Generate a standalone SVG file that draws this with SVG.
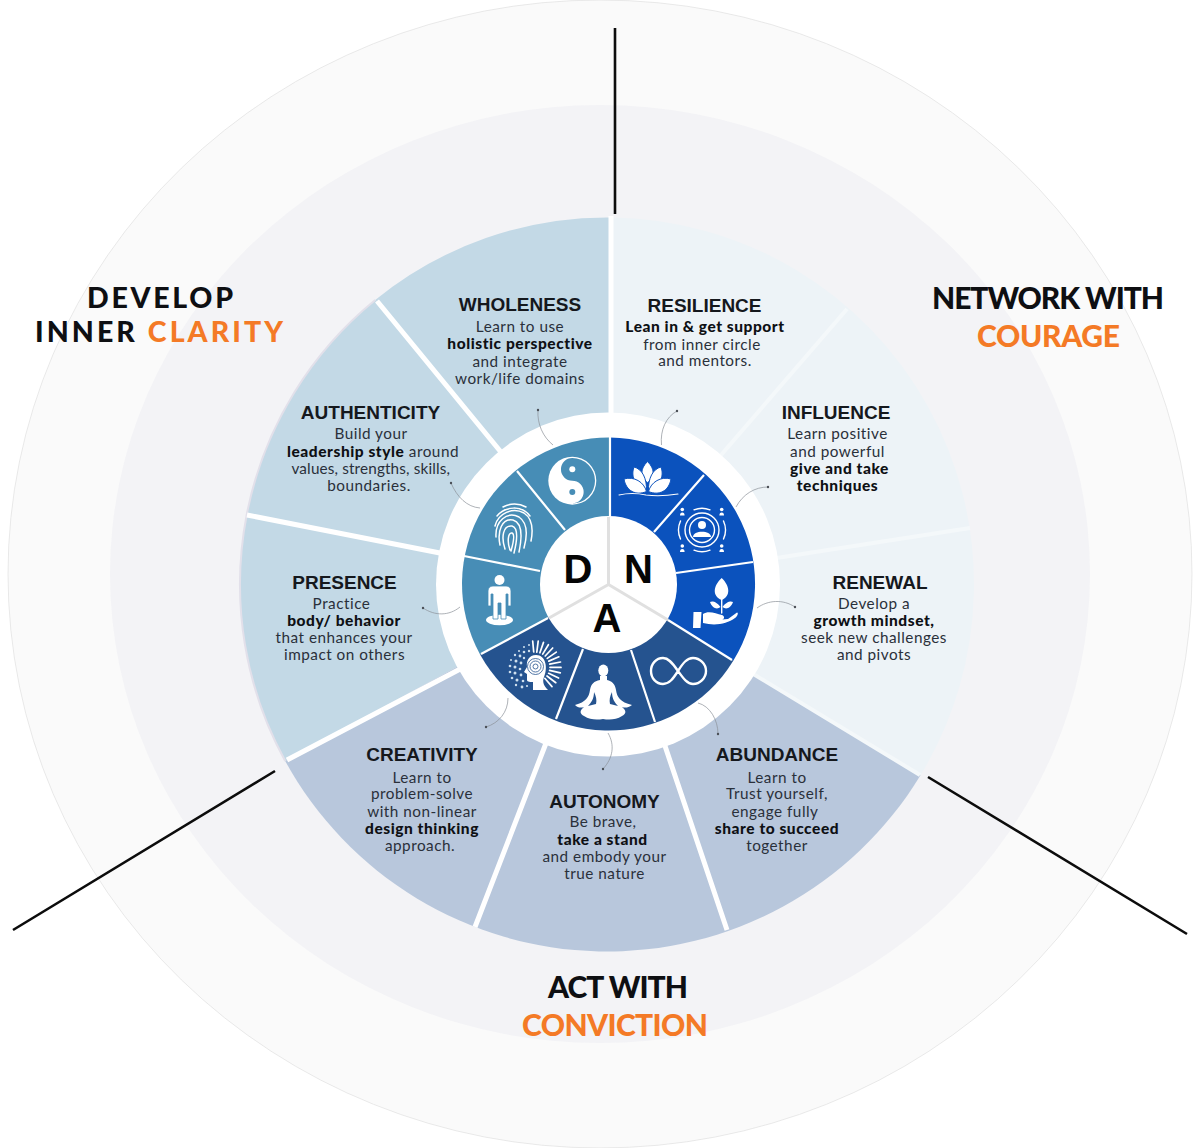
<svg xmlns="http://www.w3.org/2000/svg" width="1200" height="1148" viewBox="0 0 1200 1148">
<style>
.t{font-family:"Liberation Sans",Arial,sans-serif;font-weight:700;font-size:19px;fill:#15181d;text-anchor:middle}
.b{font-family:Lato,"Open Sans",sans-serif;font-size:15.3px;fill:#2a303a;text-anchor:middle;letter-spacing:.5px}
.s{font-weight:900;font-size:15.5px;letter-spacing:.55px;fill:#0e1014}
.h{font-family:Lato,"Open Sans",sans-serif;font-weight:900;font-size:30px;fill:#0e0f12}
.h2{font-size:28.500px}
.o{fill:#f47a26}
.sep{stroke:#fff;stroke-width:5;fill:none}
.sep2{stroke:#f4f8fa;stroke-width:4;fill:none}
.in{stroke:#fff;stroke-width:2.2;fill:none}
.hubl{stroke:#e0e0e0;stroke-width:3;fill:none}
.blk{stroke:#0c0c0c;stroke-width:2.6;fill:none}
.lead{stroke:#8b9098;stroke-width:.7;fill:none;marker-end:url(#dot)}
.ic{fill:#fff}
.icl{fill:none;stroke:#fff;stroke-linecap:round}
.hub{font-family:"Liberation Sans",Arial,sans-serif;font-weight:700;font-size:40px;fill:#050505;text-anchor:middle}
</style>
<defs><marker id="dot" markerUnits="userSpaceOnUse" markerWidth="4" markerHeight="4" refX="2" refY="2"><circle cx="2" cy="2" r="1.200" fill="#4a4f57"/></marker></defs>
<rect width="1200" height="1148" fill="#fff"/>
<g id="rings">
<ellipse cx="600" cy="574" rx="592" ry="574" fill="#fafafa" stroke="#d5d5d5" stroke-width=".5"/>
<ellipse cx="600" cy="574" rx="490" ry="469" fill="#f3f3f6"/>
</g>
<g id="dividers">
<path class="blk" d="M615 28V214M13 930L275 771M928 777L1187 934"/>
</g>
<g id="wedges">
<path d="M611 584.500V217.500A367 367 0 0 0 375.200 300L607 584.500Z" fill="#c3d9e6"/>
<path d="M607 584.500L375.200 300A367 367 0 0 0 285.200 761Z" fill="#c3d9e6"/>
<path d="M607 584.500L285.200 761A367 367 0 0 0 920.500 775.300Z" fill="#b8c7dc"/>
<path d="M607 584.500L920.500 775.300A367 367 0 0 0 611 217.500V584.500Z" fill="#edf3f7"/>
<path d="M375.200 300A367 367 0 0 0 285.200 761" fill="none" stroke="#e2e0ea" stroke-width="2"/>
<path class="sep" d="M611 216V420M377 301L505 457M247 515L445 554M287 760L464 667M475 927L548 738M727 930L663 740"/>
<path class="sep2" d="M920 775L750 672M970 528L770 559M847 309L715 462"/>
</g>
<g id="hub-ring">
<circle cx="608" cy="584.500" r="172" fill="#fff"/>
<path d="M608.500 584L610 437.500A146.500 146.500 0 0 0 480.100 654.500Z" fill="#478db6"/>
<path d="M608.500 584L480.100 654.500A146.500 146.500 0 0 0 733.300 660.800Z" fill="#25538f"/>
<path d="M608.500 584L733.300 660.800A146.500 146.500 0 0 0 610 437.500Z" fill="#0b52bd"/>
<path class="in" d="M610 437V520M517 471L565 530M464 556L540 571M481 654L548 618M556 719L583 649M655 722L631 650M732 660L668 620M753 562L676 573M704 475L654 532"/>
<circle cx="608.500" cy="584.500" r="68.500" fill="#fff"/>
<path class="hubl" d="M608.500 584.500V517M608.500 584.500L549 618M608.500 584.500L668 620"/>
</g>
<g id="node-d"><text class="hub" x="578" y="583">D</text></g>
<g id="node-n"><text class="hub" x="638.500" y="583">N</text></g>
<g id="node-a"><text class="hub" x="607" y="632">A</text></g>
<g id="wholeness"><text class="t" x="520" y="311">WHOLENESS</text>
<text class="b" x="520" y="332">Learn to use</text><text class="b s" x="520" y="349">holistic perspective</text><text class="b" x="520" y="366.500">and integrate</text><text class="b" x="520" y="383.500">work/life domains</text>
<circle class="ic" cx="572.300" cy="480.700" r="24"/>
<path d="M572.300 458A22.700 22.700 0 0 1 572.300 503.400A11.350 11.350 0 0 0 572.300 480.700A11.350 11.350 0 0 1 572.300 458Z" fill="#478db6"/>
<circle class="ic" cx="572.300" cy="469.300" r="3"/><circle cx="572.300" cy="492" r="3" fill="#478db6"/>
</g>
<g id="resilience"><text class="t" x="704.500" y="311.500">RESILIENCE</text>
<text class="b s" x="705" y="332">Lean in &amp; get support</text><text class="b" x="702" y="349.500">from inner circle</text><text class="b" x="705" y="366">and mentors.</text>
<g class="ic" stroke="#0b52bd" stroke-width="1">
<path d="M647.500 461.500C655 469 655 476 647.500 483C640 476 640 469 647.500 461.500Z"/>
<path d="M634 467C642 469 647 478 646.500 491C637 488 630 478 634 467Z"/>
<path d="M661 467C653 469 648 478 648.500 491C658 488 665 478 661 467Z"/>
<path d="M624 479C634 476 644 482 646.500 491.500C636 496 626 491 624 479Z"/>
<path d="M671 479C661 476 651 482 648.500 491.500C659 496 669 491 671 479Z"/>
</g>
<path class="icl" stroke-width="1.100" d="M619 495Q632 492 646 495Q660 497 678 494"/>
</g>
<g id="influence"><text class="t" x="836" y="419">INFLUENCE</text>
<text class="b" x="837.500" y="439">Learn positive</text><text class="b" x="837.500" y="456.500">and powerful</text><text class="b s" x="839.500" y="474">give and take</text><text class="b s" x="837.500" y="491">techniques</text>
<circle class="icl" stroke-width="1.400" cx="702" cy="530" r="12.500"/><circle class="icl" stroke-width="1.400" cx="702" cy="530" r="17"/>
<path class="icl" stroke-width="1.400" d="M680.500 521A21.700 21.700 0 0 0 680.500 539M723.500 521A21.700 21.700 0 0 1 723.500 539M694 509.800A21.700 21.700 0 0 1 710 509.800M694 550.200A21.700 21.700 0 0 0 710 550.200"/>
<circle class="ic" cx="702" cy="525" r="4"/><path class="ic" d="M693 537C693 530 711 530 711 537Z"/>
<g class="ic"><circle cx="682.300" cy="509.500" r="1.800"/><circle cx="721.700" cy="509.500" r="1.800"/><circle cx="682.300" cy="546" r="1.800"/><circle cx="721.700" cy="546" r="1.800"/>
<path d="M680 515.500a2.300 3 0 0 1 4.600 0ZM719.400 515.500a2.300 3 0 0 1 4.600 0ZM680 552a2.300 3 0 0 1 4.600 0ZM719.400 552a2.300 3 0 0 1 4.600 0Z"/></g>
</g>
<g id="renewal"><text class="t" x="880" y="589">RENEWAL</text>
<text class="b" x="874" y="608.500">Develop a</text><text class="b s" x="874" y="626">growth mindset,</text><text class="b" x="874" y="643">seek new challenges</text><text class="b" x="874" y="660">and pivots</text>
<path class="ic" d="M721.700 578C730 586 731 596 721.700 600C712 596 713 586 721.700 578ZM722.500 607C727 601 731 601 733 602C731 608 726 610 722.500 607ZM720.500 607C716 601 712 601 710 602C712 608 717 610 720.500 607Z"/>
<path class="icl" stroke-width="1.400" d="M721.700 598V613"/>
<path class="ic" d="M693.500 612H701.500L700.500 628H693ZM703 614C709 610 716 614 722 615C725 616 725 620 720 620L716 620L728 619L737 612.500C739 612.500 737 617 735 618C727 624 715 626 703 623Z"/>
</g>
<g id="abundance"><text class="t" x="777" y="761">ABUNDANCE</text>
<text class="b" x="777" y="782.500">Learn to</text><text class="b" x="777" y="799">Trust yourself,</text><text class="b" x="775" y="816.500">engage fully</text><text class="b s" x="777" y="834">share to succeed</text><text class="b" x="777" y="851">together</text>
<path class="icl" stroke-width="2.400" d="M678 671C672 662 668 658 663 658C656 658 651 664 651 671C651 678 656 684 663 684C669 684 673 679 678 671C683 663 687 658 693 658C700 658 706 664 706 671C706 678 700 684 693 684C687 684 683 678 678 671Z"/>
</g>
<g id="autonomy"><text class="t" x="604.500" y="808">AUTONOMY</text>
<text class="b" x="603" y="827">Be brave,</text><text class="b s" x="602.500" y="845">take a stand</text><text class="b" x="604.500" y="862">and embody your</text><text class="b" x="604.500" y="879">true nature</text>
<ellipse class="ic" cx="603.300" cy="670.500" rx="5" ry="6"/>
<path class="ic" fill-rule="evenodd" d="M600 676L600 680C594 681 591 684 590 690C589 697 586 702 575 705C578 708 581 708 584 707C579 711 580 714 584 716C590 720 597 720 603 719C609 720 616 720 622 716C626 714 627 711 622 707C625 708 628 708 632 705C620 702 617 697 616 690C615 684 612 681 607 680L607 676ZM594 692C594 699 591 703 588 706L596 704C597 700 596 696 594 692ZM612 692C612 699 615 703 618 706L610 704C609 700 610 696 612 692Z"/>
</g>
<g id="creativity"><text class="t" x="422" y="761">CREATIVITY</text>
<text class="b" x="422" y="782.500">Learn to</text><text class="b" x="422" y="799">problem-solve</text><text class="b" x="422" y="816.500">with non-linear</text><text class="b s" x="422" y="834">design thinking</text><text class="b" x="420" y="851">approach.</text>
<path class="ic" d="M536 655C529 655 526 661 527 667L524 672L527 674L527 680C527 682 531 682 533 682L533 690L548 690C544 686 542 682 544 677C548 668 546 655 536 655Z"/>
<g fill="none" stroke="#25538f" stroke-width=".8"><circle cx="535.500" cy="666.500" r="2.500"/><circle cx="535.500" cy="666.500" r="5.500"/><circle cx="535.500" cy="666.500" r="8"/></g>
<path class="icl" stroke-width="1.700" d="M533.700 652L532.700 641M536.800 652.100L538.200 641.200M539.900 652.800L543.500 642.400M542.700 654.100L548.400 644.700M545.200 656L552.700 648M547.300 658.400L556.300 652.100M548.800 661.100L558.900 656.800M549.700 664.100L560.500 662M550 667.300L561 667.400M549.600 670.400L560.300 672.900M548.600 673.300L558.600 678M547 676L555.800 682.700M544.800 678.300L552 686.600"/>
<g fill="#cfe0ef"><circle cx="529" cy="645" r="1"/><circle cx="524" cy="647" r="1"/><circle cx="529" cy="651" r="1.200"/><circle cx="524" cy="652" r="1.300"/><circle cx="519" cy="651" r="1"/><circle cx="515" cy="655" r="1.200"/><circle cx="520" cy="656" r="1.400"/><circle cx="524" cy="658" r="1.200"/><circle cx="516" cy="661" r="1.500"/><circle cx="511" cy="660" r="1"/><circle cx="521" cy="663" r="1.400"/><circle cx="510" cy="666" r="1.300"/><circle cx="515" cy="667" r="1.500"/><circle cx="520" cy="669" r="1.300"/><circle cx="510" cy="672" r="1.300"/><circle cx="515" cy="673" r="1.500"/><circle cx="521" cy="675" r="1.400"/><circle cx="512" cy="678" r="1.300"/><circle cx="517" cy="680" r="1.500"/><circle cx="523" cy="681" r="1.300"/><circle cx="516" cy="685" r="1.200"/><circle cx="522" cy="687" r="1.400"/><circle cx="527" cy="686" r="1.100"/></g>
</g>
<g id="presence"><text class="t" x="344.500" y="589">PRESENCE</text>
<text class="b" x="341.500" y="608.500">Practice</text><text class="b s" x="344" y="626">body/ behavior</text><text class="b" x="344" y="643">that enhances your</text><text class="b" x="344.500" y="660">impact on others</text>
<ellipse class="ic" cx="499.500" cy="620" rx="13.500" ry="5.200"/>
<circle class="ic" cx="499.500" cy="580" r="5"/>
<path class="ic" stroke="#478db6" stroke-width=".8" d="M493 586H506C509 586 511 588 511 591V606H508V594H506V619H501V603H498V619H493V594H491V606H488V591C488 588 490 586 493 586Z"/>
</g>
<g id="authenticity"><text class="t" x="370.500" y="419">AUTHENTICITY</text>
<text class="b" x="371" y="439">Build your</text><text class="b" x="373" y="456.500"><tspan class="s">leadership style</tspan> around</text><text class="b" x="371" y="474" textLength="159" lengthAdjust="spacing">values, strengths, skills,</text><text class="b" x="369" y="491">boundaries.</text>
<g class="icl" stroke-width="1.500"><path d="M503 507C510 503 519 503 526 507M497 516C505 506 522 505 530 516M495 526C498 513 513 507 524 513C533 519 533 531 531 541M496 537C495 521 507 511 519 517C528 523 527 537 524 548M500 545C497 531 502 518 513 520C523 523 522 538 519 552M505 549C501 537 503 525 512 526C519 528 517 541 514 553M510 550C507 542 508 532 512 533C515 534 513 544 511 551"/></g>
</g>
<g id="connectors">
<path class="lead" d="M553 445C543 437 537 424 538 410"/>
<path class="lead" d="M661.500 445C660 430 666 417 677 411"/>
<path class="lead" d="M736 507C743 494 755 487 768 487"/>
<path class="lead" d="M757 608C768 600 783 599 795 607"/>
<path class="lead" d="M698 703C710 706 718 720 718 734"/>
<path class="lead" d="M608 733C615 745 613 758 603 769"/>
<path class="lead" d="M508 698C508 712 499 723 486 727"/>
<path class="lead" d="M460 607C449 616 435 616 423 608"/>
<path class="lead" d="M480 508C467 507 457 497 451 483"/>
</g>
<g id="label-clarity"><text class="h h2" x="87" y="308" textLength="146" lengthAdjust="spacing">DEVELOP</text><text class="h h2" x="35" y="342" textLength="248" lengthAdjust="spacing">INNER <tspan class="o">CLARITY</tspan></text></g>
<g id="label-courage"><text class="h" x="932" y="309" textLength="232" lengthAdjust="spacing">NETWORK WITH</text><text class="h o" x="977" y="347" textLength="143" lengthAdjust="spacing">COURAGE</text></g>
<g id="label-conviction"><text class="h" x="548" y="998" textLength="140" lengthAdjust="spacing">ACT WITH</text><text class="h o" x="522" y="1036" textLength="186" lengthAdjust="spacing">CONVICTION</text></g>
</svg>
